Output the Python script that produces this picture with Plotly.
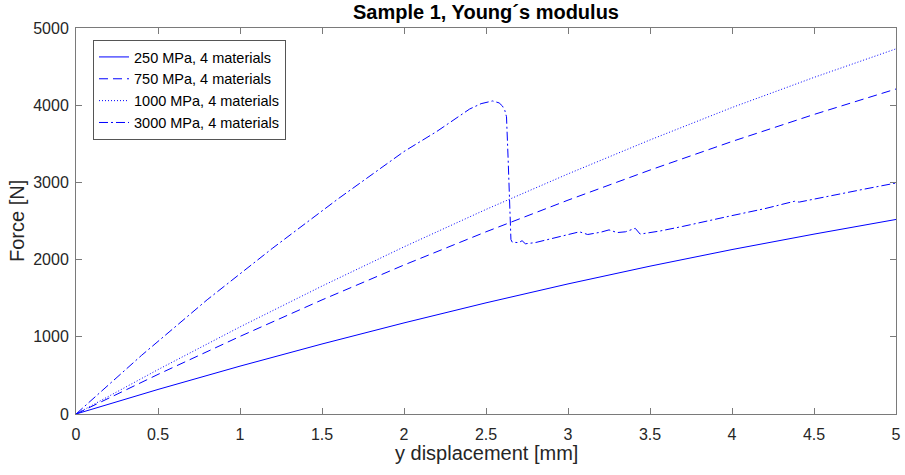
import plotly.graph_objects as go

# 250 MPa, 4 materials
x_250 = [0, 0.5, 1.0, 1.5, 2.0, 2.5, 3.0, 3.5, 4.0, 4.5, 5.0]
y_250 = [0, 318, 620, 907, 1180, 1440, 1685, 1915, 2130, 2330, 2520]

# 750 MPa, 4 materials
x_750 = [0, 0.5, 1.0, 1.5, 2.0, 2.5, 3.0, 3.5, 4.0, 4.5, 5.0]
y_750 = [0, 513, 1005, 1478, 1930, 2360, 2770, 3160, 3530, 3880, 4210]

# 1000 MPa, 4 materials
x_1000 = [0, 0.5, 1.0, 1.5, 2.0, 2.5, 3.0, 3.5, 4.0, 4.5, 5.0]
y_1000 = [0, 575, 1128, 1657, 2165, 2650, 3110, 3550, 3970, 4360, 4730]

# 3000 MPa, 4 materials
x_3000 = [0, 0.4, 0.8, 1.2, 1.6, 2.0, 2.2, 2.4, 2.47, 2.54, 2.58, 2.6, 2.615, 2.625,
          2.635, 2.645, 2.652, 2.66, 2.7, 2.72, 2.74, 2.8, 2.9, 3.0, 3.07, 3.12, 3.2,
          3.25, 3.3, 3.35, 3.41, 3.44, 3.56, 3.7, 3.87, 4.0, 4.2, 4.38, 4.41, 4.6, 4.8, 5.0]
y_3000 = [0, 760, 1480, 2150, 2790, 3400, 3660, 3950, 4020, 4055, 4030, 3990, 3930, 3850,
          3300, 2700, 2260, 2225, 2220, 2245, 2205, 2220, 2270, 2320, 2360, 2325, 2355,
          2385, 2350, 2360, 2405, 2330, 2370, 2430, 2513, 2570, 2660, 2755, 2745, 2830, 2910, 2992]

series = [
    ("250 MPa, 4 materials", x_250, y_250, "solid"),
    ("750 MPa, 4 materials", x_750, y_750, "9px,5px"),
    ("1000 MPa, 4 materials", x_1000, y_1000, "1px,2px"),
    ("3000 MPa, 4 materials", x_3000, y_3000, "9px,3px,2px,3px"),
]

x_ticks = [0, 0.5, 1, 1.5, 2, 2.5, 3, 3.5, 4, 4.5, 5]
y_ticks = [0, 1000, 2000, 3000, 4000, 5000]

FONT = "Liberation Sans, Arial, Helvetica, sans-serif"
AXC = "#7a7a7a"

W, H = 905, 475
# plot-area edges in pixels
L, R, T, B = 76, 896, 28, 414

def py(y_px):
    return (B - y_px) / (B - T)

def px(x_px):
    return (x_px - L) / (R - L)

fig = go.Figure()
for name, xs, ys, dash in series:
    fig.add_trace(go.Scatter(x=xs, y=ys, mode="lines", name=name,
                             line=dict(color="#0000ff", width=1, dash=dash)))

axis_common = dict(showgrid=False, zeroline=False, showline=True, linecolor=AXC,
                   linewidth=1, mirror="ticks", ticks="inside", ticklen=6,
                   tickcolor=AXC, tickwidth=1, automargin=False,
                   tickfont=dict(family=FONT, size=16, color="#262626"))

fig.update_layout(
    width=W, height=H,
    margin=dict(l=L, r=W - R, t=T, b=H - B, autoexpand=False),
    paper_bgcolor="white", plot_bgcolor="white",
    xaxis=dict(range=[0, 5], tickvals=x_ticks,
               ticktext=[("%g" % v) for v in x_ticks],
               ticklabelstandoff=6,
               **axis_common),
    yaxis=dict(range=[0, 5000], tickvals=y_ticks,
               ticktext=[str(v) for v in y_ticks],
               ticklabelstandoff=3,
               **axis_common),
    legend=dict(x=px(93), y=py(40), xanchor="left", yanchor="top",
                bgcolor="white", bordercolor="#555555", borderwidth=1,
                font=dict(family=FONT, size=14.5, color="#000000"),
                tracegroupgap=0, itemwidth=30),
    showlegend=True,
    annotations=[
        dict(text="<b>Sample 1, Young´s modulus</b>", xref="paper", yref="paper",
             x=0.5, y=py(12), xanchor="center", yanchor="middle",
             showarrow=False, font=dict(family=FONT, size=20, color="#000000")),
        dict(text="y displacement [mm]", xref="paper", yref="paper",
             x=0.5, y=py(453), xanchor="center", yanchor="middle",
             showarrow=False, font=dict(family=FONT, size=20, color="#262626")),
        dict(text="Force [N]", xref="paper", yref="paper", textangle=-90,
             x=px(17), y=0.5, xanchor="center", yanchor="middle",
             showarrow=False, font=dict(family=FONT, size=20, color="#262626")),
    ],
)

fig.write_html("out.html", config={"displayModeBar": False},
               post_script="document.body.style.margin='0';document.body.style.padding='0';")
